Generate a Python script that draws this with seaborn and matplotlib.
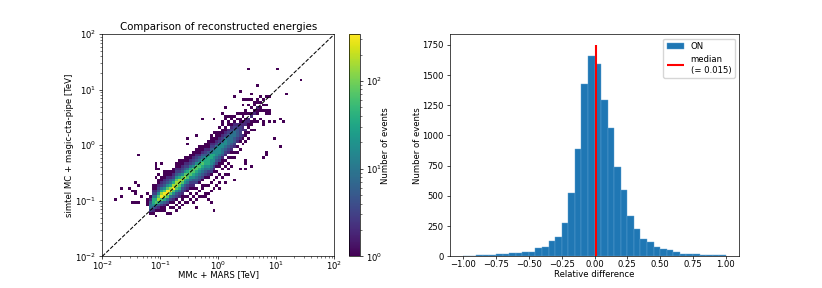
import numpy as np
import matplotlib
matplotlib.use('Agg')
import matplotlib.pyplot as plt
from matplotlib.colors import LogNorm
import seaborn as sns

# 2d histogram, read per column off the picture: bin of MARS energy, first
# filled bin of the simtel energy, then one level character per bin upwards
mars_bins = list(range(15, 58)) + [4, 6, 9, 10, 11, 12, 13, 59, 60, 61, 62, 63, 68]
first_bins = [
    18, 15, 15, 14, 16, 16, 16, 15, 15, 17, 16, 17, 18, 19, 19, 20, 19, 17, 21, 21,
    21, 20, 19, 16, 25, 24, 28, 26, 29, 32, 27, 37, 31, 40, 31, 42, 32, 45, 48, 49,
    35, 36, 48,
    20, 21, 24, 19, 19, 19, 21, 42, 67, 39, 48, 58, 63,
]
level_columns = [
    "111.1",
    "1355421",
    "12467753211",
    "1.1368753211..1..111",
    "124798643211.1.1",
    "11358a9753211....1",
    "112479a86432111",
    "1..1358aa8643211",
    "1.1.1358a9754211",
    "1.12468a9753211",
    "1.1.13468998643211",
    "1.1.23578997532111",
    "1.112346898643211",
    "1.1.2346798643211",
    "1.1.1235688753211....1.1",
    "1.1.1235688753211",
    "1.1..12346788643211",
    "1..1.1.1.3456788643211....1",
    "1.1..13456787542111",
    "1..11.1345678754211.........1",
    "11..1..1345677643211",
    "1.1..1..12356777542111",
    "1...1..1..134566775432111",
    "1.......1..1..1235667653211.1....1",
    "1..1.1.1345666532111",
    "1.1..1..1134566653211.1",
    "1..1.1124556643211.11..1",
    "1..1..1.1.23456653211..11..1",
    "1.1.1.1.234555432.11.1",
    "1..1.12345554321.11",
    "1.......1.1.2344554321.1......1",
    "1.1.2344432.1.1",
    "1......1..123333211.1.......1",
    "1.12.2221.11..1.1",
    "1.11......1.112.221.11...1",
    "1.1.1122.1..1.1..........1",
    "1............1.11.21.1..1.1",
    "1..11.21.11",
    "1..112.11....1",
    "1..11.1.1",
    "1...........11...1.1.1",
    "11.............11.1..1",
    "1..11....1",
    "1",
    "1..1",
    "1",
    "1...1",
    "1..11..1",
    "1.....1..........1",
    "1",
    "1.....1",
    "1",
    "1.........1",
    "1",
    "1",
    "1",
]
level_counts = {'1': 1, '2': 2, '3': 3, '4': 5, '5': 9, '6': 17, '7': 35, '8': 70, '9': 150, 'a': 320}

# relative difference histogram, one value per bin
diff_edges = np.linspace(-1, 1, 41)
diff_counts = [2, 5, 10, 8, 10, 15, 16, 24, 28, 35, 38, 68, 80, 127, 162, 272, 527, 888, 1430, 1657,
               1590, 1295, 1062, 742, 550, 330, 225, 143, 122, 76, 58, 50, 36, 17, 20, 18, 12, 14, 7, 10]
median_diff = 0.015

log_edges = np.linspace(-2, 2, 81)
x_vals, y_vals, weights = [], [], []
for col, first, text in zip(mars_bins, first_bins, level_columns):
    for i, ch in enumerate(text):
        if ch == '.':
            continue
        x_vals.append(10 ** (log_edges[col] + 0.025))
        y_vals.append(10 ** (log_edges[first + i] + 0.025))
        weights.append(level_counts[ch])

W, H = 822, 288
fs = 6.17
fig = plt.figure(figsize=(W / 100, H / 100), dpi=100)


def place(x0, y0, x1, y1):
    return [x0 / W, 1 - y1 / H, (x1 - x0) / W, (y1 - y0) / H]


ax1 = fig.add_axes(place(102.3, 34.3, 334.3, 256.3))
sns.histplot(x=x_vals, y=y_vals, weights=weights, bins=80, binrange=((-2, 2), (-2, 2)),
             log_scale=True, cmap='viridis', ax=ax1)
mesh = ax1.collections[0]
mesh.set_norm(LogNorm(vmin=1, vmax=340))
ax1.plot([1e-2, 1e2], [1e-2, 1e2], 'k--', lw=0.75)
ax1.set_xlim(1e-2, 1e2)
ax1.set_ylim(1e-2, 1e2)
ax1.set_xlabel('MMc + MARS [TeV]', fontsize=fs, labelpad=-1)
ax1.set_ylabel('simtel MC + magic-cta-pipe [TeV]', fontsize=fs, labelpad=0.5)
ax1.set_title('Comparison of reconstructed energies', fontsize=7.4, pad=3)

cax = fig.add_axes(place(348.7, 34.3, 360, 256.3))
cbar = fig.colorbar(mesh, cax=cax)
cbar.set_label('Number of events', fontsize=fs, labelpad=-1)

ax2 = fig.add_axes(place(450, 34.3, 739, 256.3))
sns.histplot(x=(diff_edges[:-1] + diff_edges[1:]) / 2, weights=diff_counts, bins=list(diff_edges),
             color='tab:blue', alpha=1, edgecolor='#5fa2d2', linewidth=0.3, label='ON', ax=ax2)
ax2.vlines(median_diff, 0, 1750, color='red', lw=1.5, label=f'median\n(= {median_diff})')
ax2.set_xlim(-1.1, 1.1)
ax2.set_ylim(0, 1837.5)
ax2.set_xlabel('Relative difference', fontsize=fs, labelpad=0.6)
ax2.set_ylabel('Number of events', fontsize=fs, labelpad=0)
handles, labels = ax2.get_legend_handles_labels()
ax2.legend(handles[::-1], labels[::-1], loc='upper right', fontsize=fs)

for ax in (ax1, ax2, cax):
    ax.tick_params(labelsize=fs, width=0.5, length=2.2, pad=2.2)
    ax.tick_params(which='minor', width=0.37, length=1.25)
    for spine in ax.spines.values():
        spine.set_linewidth(0.5)
ax1.tick_params(axis='x', pad=0)
ax2.tick_params(axis='x', pad=0.5)

fig.savefig('out.png', dpi=100)
